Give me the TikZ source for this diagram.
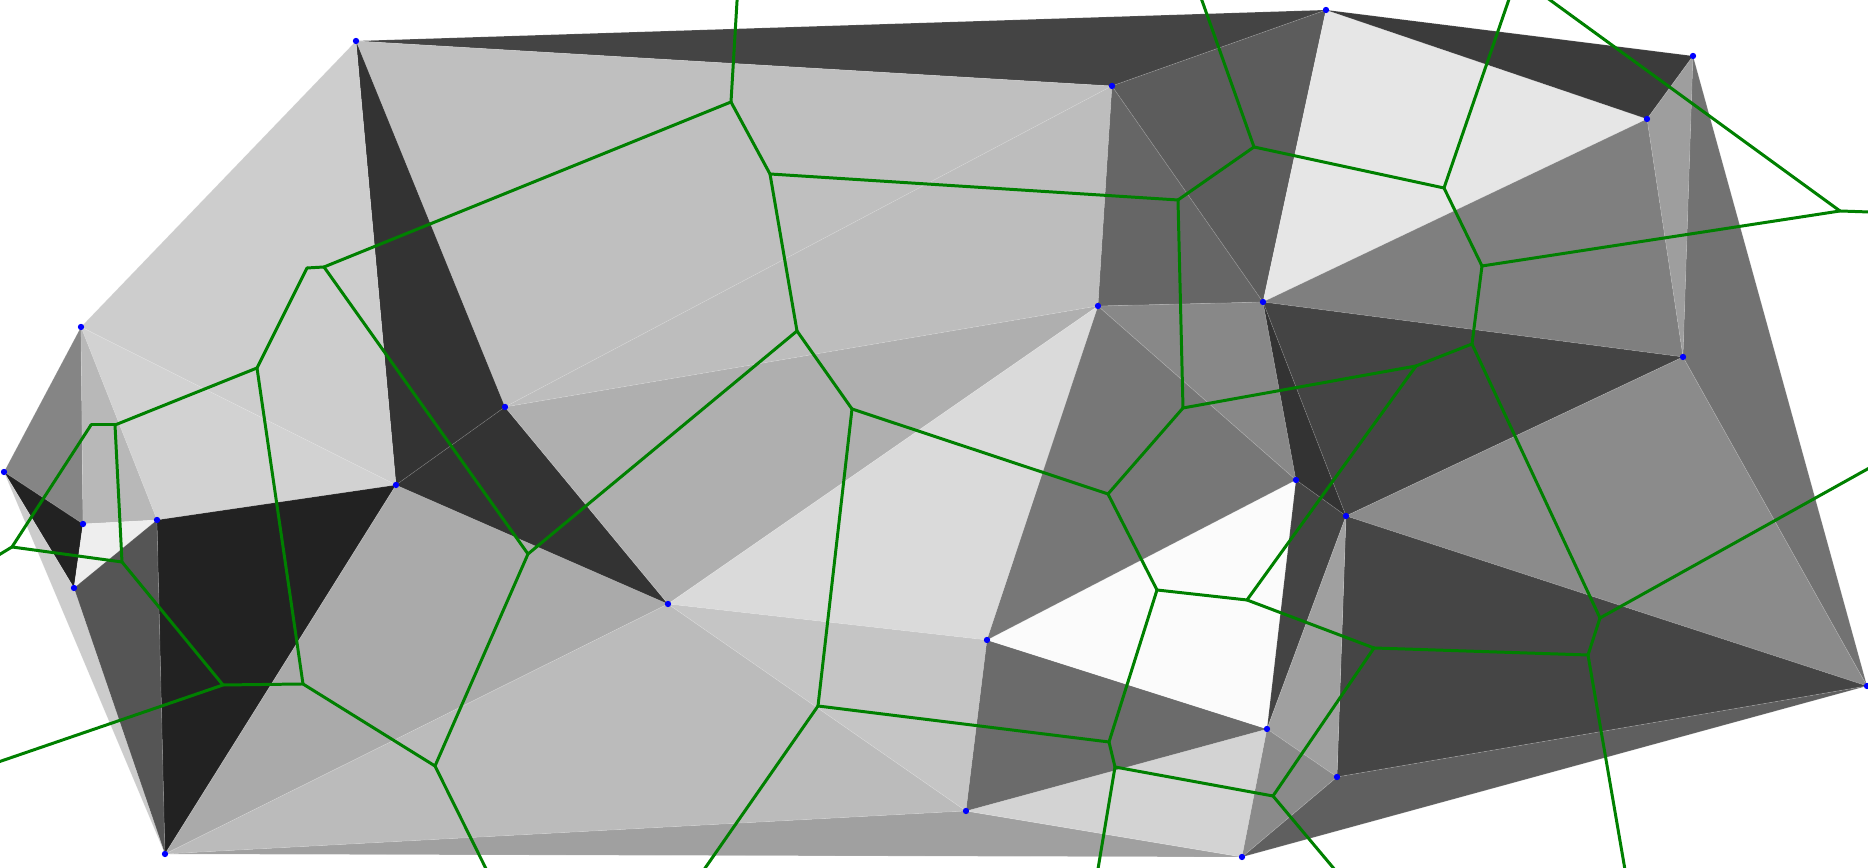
\documentclass[tikz,border=0pt]{standalone}
\usepackage{tikz}

\definecolor{voronoi}{RGB}{0,128,0}
\definecolor{site}{RGB}{0,0,255}
% one grey triangle of the triangulation
\newcommand{\tri}[4]{\path[tri, fill={rgb,255:red,#4;green,#4;blue,#4}] (#1) -- (#2) -- (#3) -- cycle;}

\begin{document}
\begin{tikzpicture}[x=0.01cm,y=-0.01cm,
  site/.style={circle,fill=site,inner sep=0pt,minimum size=1.8pt},
  cell/.style={draw=voronoi,line width=0.85pt,line cap=round},
  tri/.style={draw=white,draw opacity=0.15,line width=0.2pt}]
\useasboundingbox (0,0) rectangle (1868,868);
\clip (0,0) rectangle (1868,868);

% sites
\coordinate (A) at (356,41);
\coordinate (B) at (1326,10);
\coordinate (C) at (1693,56);
\coordinate (D) at (1647,119);
\coordinate (E) at (1112,86);
\coordinate (F) at (1098,306);
\coordinate (G) at (1263,302);
\coordinate (H) at (1683,357);
\coordinate (I) at (81,327);
\coordinate (J) at (4,472);
\coordinate (K) at (83,524);
\coordinate (L) at (157,520);
\coordinate (M) at (74,588);
\coordinate (N) at (505,407);
\coordinate (O) at (396,485);
\coordinate (P) at (668,604);
\coordinate (Q) at (1296,480);
\coordinate (R) at (1346,516);
\coordinate (S) at (987,640);
\coordinate (T) at (1867,686);
\coordinate (U) at (1267,729);
\coordinate (V) at (1337,777);
\coordinate (W) at (966,811);
\coordinate (X) at (1242,857);
\coordinate (Y) at (165,854);

% triangles
\tri{A}{B}{E}{68}
\tri{A}{E}{N}{191}
\tri{A}{N}{O}{51}
\tri{A}{I}{O}{205}
\tri{I}{L}{O}{210}
\tri{I}{J}{K}{133}
\tri{I}{K}{L}{184}
\tri{J}{K}{M}{34}
\tri{K}{L}{M}{238}
\tri{J}{M}{Y}{204}
\tri{L}{M}{Y}{85}
\tri{L}{O}{Y}{34}
\tri{O}{Y}{P}{170}
\tri{O}{N}{P}{51}
\tri{N}{E}{F}{189}
\tri{N}{F}{P}{175}
\tri{P}{F}{S}{218}
\tri{Y}{P}{W}{187}
\tri{P}{S}{W}{197}
\tri{Y}{W}{X}{160}
\tri{W}{U}{X}{211}
\tri{S}{U}{W}{107}
\tri{S}{Q}{U}{251}
\tri{F}{Q}{S}{119}
\tri{F}{G}{Q}{136}
\tri{E}{G}{F}{102}
\tri{E}{B}{G}{92}
\tri{B}{D}{G}{230}
\tri{B}{C}{D}{59}
\tri{C}{D}{H}{158}
\tri{C}{H}{T}{114}
\tri{D}{G}{H}{127}
\tri{G}{H}{R}{68}
\tri{G}{Q}{R}{51}
\tri{H}{R}{T}{139}
\tri{R}{T}{V}{69}
\tri{V}{T}{X}{95}
\tri{Q}{R}{U}{68}
\tri{R}{U}{V}{160}
\tri{U}{V}{X}{138}

% circumcentres, named after their triangle
\coordinate (abe) at (804,-1120);
\coordinate (aen) at (731,102);
\coordinate (ano) at (324,267);
\coordinate (aio) at (307,268);
\coordinate (ilo) at (257,368);
\coordinate (ijk) at (91,425);
\coordinate (ikl) at (115,425);
\coordinate (jkm) at (12,547);
\coordinate (klm) at (122,562);
\coordinate (jmy) at (-798,1035);
\coordinate (lmy) at (223,685);
\coordinate (loy) at (303,684);
\coordinate (oyp) at (435,766);
\coordinate (onp) at (528,554);
\coordinate (nef) at (770,174);
\coordinate (nfp) at (797,331);
\coordinate (pfs) at (852,409);
\coordinate (ypw) at (577,1052);
\coordinate (psw) at (818,706);
\coordinate (ywx) at (697,3277);
\coordinate (wux) at (1115,767);
\coordinate (suw) at (1109,742);
\coordinate (squ) at (1157,590);
\coordinate (fqs) at (1108,494);
\coordinate (fgq) at (1183,408);
\coordinate (egf) at (1178,200);
\coordinate (ebg) at (1254,147);
\coordinate (bdg) at (1444,188);
\coordinate (bcd) at (1517,-24);
\coordinate (cdh) at (1840,211);
\coordinate (cht) at (2302,227);
\coordinate (dgh) at (1482,266);
\coordinate (ghr) at (1472,344);
\coordinate (gqr) at (1416,366);
\coordinate (hrt) at (1600,618);
\coordinate (rtv) at (1588,655);
\coordinate (vtx) at (1700,1305);
\coordinate (qru) at (1247,600);
\coordinate (ruv) at (1374,648);
\coordinate (uvx) at (1273,796);

\path[cell]
  (aen) edge (abe) edge (ano) edge (nef)
  (ano) edge (aio) edge (onp)
  (aio) edge (ilo)
  (ilo) edge (ikl) edge (loy)
  (ikl) edge (ijk) edge (klm)
  (ijk) edge (jkm)
  (jkm) edge (klm) edge (jmy)
  (klm) edge (lmy)
  (lmy) edge (jmy) edge (loy)
  (loy) edge (oyp)
  (oyp) edge (onp) edge (ypw)
  (onp) edge (nfp)
  (nef) edge (nfp) edge (egf)
  (nfp) edge (pfs)
  (pfs) edge (psw) edge (fqs)
  (psw) edge (ypw) edge (suw)
  (wux) edge (ywx) edge (suw) edge (uvx)
  (suw) edge (squ)
  (squ) edge (fqs) edge (qru)
  (fqs) edge (fgq)
  (fgq) edge (egf) edge (gqr)
  (egf) edge (ebg)
  (ebg) edge (abe) edge (bdg)
  (bdg) edge (bcd) edge (dgh)
  (cdh) edge (bcd) edge (dgh) edge (cht)
  (dgh) edge (ghr)
  (ghr) edge (gqr) edge (hrt)
  (hrt) edge (cht) edge (rtv)
  (gqr) edge (qru)
  (qru) edge (ruv)
  (ruv) edge (rtv) edge (uvx)
  (rtv) edge (vtx)
  (uvx) edge (vtx);

\foreach \s in {A,...,Y}
  \node[site] (s\s) at (\s) {};
\end{tikzpicture}
\end{document}
